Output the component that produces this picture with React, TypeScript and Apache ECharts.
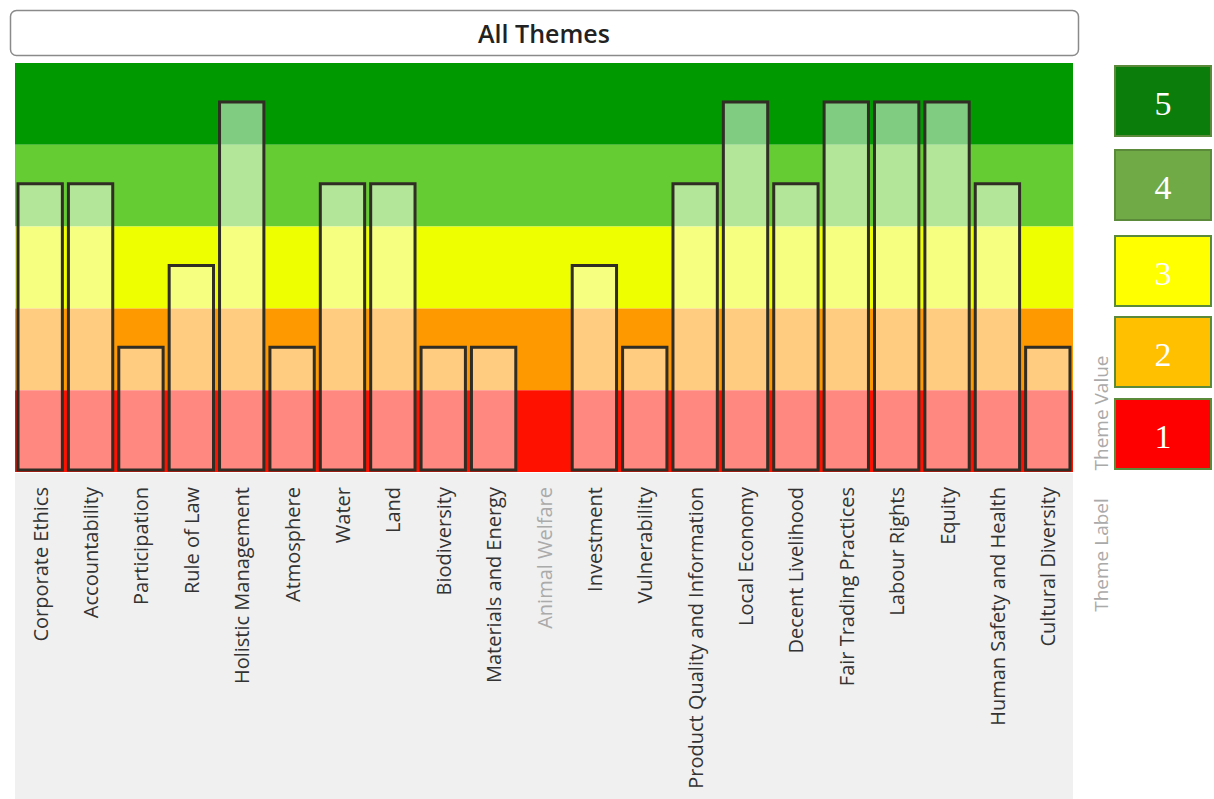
import React, { useEffect, useRef } from "react";
import * as echarts from "echarts";

const themes = [
  "Corporate Ethics", "Accountability", "Participation", "Rule of Law", "Holistic Management",
  "Atmosphere", "Water", "Land", "Biodiversity", "Materials and Energy", "Animal Welfare",
  "Investment", "Vulnerability", "Product Quality and Information", "Local Economy",
  "Decent Livelihood", "Fair Trading Practices", "Labour Rights", "Equity",
  "Human Safety and Health", "Cultural Diversity",
];
const themeValues: (number | null)[] = [
  4, 4, 2, 3, 5, 2, 4, 4, 2, 2, null, 3, 2, 4, 5, 4, 5, 5, 5, 4, 2,
];
const levels = [5, 4, 3, 2, 1];
const bandColors = ["#009900", "#66cc33", "#eeff00", "#ff9900", "#ff1100"];
const legendColors = ["#0a7d0a", "#6faa46", "#ffff00", "#ffc000", "#ff0000"];
const legendTops = [66, 150, 236, 317, 399];

export default function App() {
  const ref = useRef<HTMLDivElement>(null);
  useEffect(() => {
    if (!ref.current) return;
    const chart = echarts.init(ref.current, null, { renderer: "svg" });
    const gridLeft = 15, gridTop = 63, gridRight = 1073, gridBottom = 472;

    const graphics: any[] = [
      {
        type: "rect", z: -10, silent: true,
        shape: { x: gridLeft, y: gridBottom + 1, width: gridRight - gridLeft, height: 799 - gridBottom - 1 },
        style: { fill: "#f0f0f0" },
      },
      {
        type: "rect",
        shape: { x: 10.5, y: 10.5, width: 1068, height: 45, r: 6 },
        style: { fill: "#ffffff", stroke: "#8a8a8a", lineWidth: 1.5 },
      },
      {
        type: "text", x: 544, y: 33,
        style: {
          text: "All Themes", fill: "#222222", font: "600 25px 'Open Sans'",
          align: "center", verticalAlign: "middle",
        },
      },
      {
        type: "text", x: 1101, y: 413, rotation: Math.PI / 2,
        style: {
          text: "Theme Value", fill: "#aaaaaa", font: "19px 'Open Sans'",
          align: "center", verticalAlign: "middle",
        },
      },
      {
        type: "text", x: 1101, y: 555, rotation: Math.PI / 2,
        style: {
          text: "Theme Label", fill: "#aaaaaa", font: "19px 'Open Sans'",
          align: "center", verticalAlign: "middle",
        },
      },
    ];
    levels.forEach((lv, i) => {
      graphics.push({
        type: "rect",
        shape: { x: 1115, y: legendTops[i], width: 96, height: 70 },
        style: { fill: legendColors[i], stroke: "#5b8a3a", lineWidth: 2 },
      });
      graphics.push({
        type: "text", x: 1163, y: legendTops[i] + 37,
        style: {
          text: String(lv), fill: "#ffffff", font: "34px 'Liberation Serif'",
          align: "center", verticalAlign: "middle",
        },
      });
    });

    const markAreaData = levels.map((lv, i) => [
      { yAxis: lv - 0.5, itemStyle: { color: bandColors[i], opacity: 1 } },
      { yAxis: lv + 0.5 },
    ]);

    chart.setOption({
      animation: false,
      backgroundColor: "#ffffff",
      grid: {
        left: gridLeft, top: gridTop, right: 1214 - gridRight, bottom: 799 - gridBottom,
        containLabel: false,
      },
      xAxis: {
        type: "category",
        data: themes.map((t, i) => ({
          value: t,
          textStyle: { color: themeValues[i] == null ? "#aaaaaa" : "#333333" },
        })),
        axisLine: { show: false },
        axisTick: { show: false },
        splitLine: { show: false },
        axisLabel: {
          rotate: 90, interval: 0, margin: 15, fontSize: 20,
          fontFamily: "'Open Sans'", color: "#333333",
        },
      },
      yAxis: {
        type: "value", min: 0.5, max: 5.5, show: false,
      },
      graphic: graphics,
      series: [
        {
          type: "custom",
          data: themeValues.map((v, i) => [i, v]),
          renderItem: (params: any, api: any) => {
            const v = api.value(1);
            if (v == null || isNaN(v)) return null;
            const x = api.value(0);
            const base = api.coord([x, 0.5]);
            const top = api.coord([x, v]);
            const w = api.size([1, 0])[0] * 0.88;
            const bottomY = base[1] - 2;
            return {
              type: "rect",
              shape: { x: base[0] - w / 2, y: top[1] - 2, width: w, height: bottomY - top[1] + 2 },
              style: { fill: "rgba(255,255,255,0.5)", stroke: "#2f2d24", lineWidth: 3 },
            };
          },
          markArea: {
            silent: true,
            z: -1,
            data: markAreaData,
          },
          z: 5,
        },
      ],
    });
    return () => chart.dispose();
  }, []);
  return (
    <div
      ref={ref}
      style={{ position: "fixed", left: 0, top: 0, width: 1214, height: 799 }}
    />
  );
}
